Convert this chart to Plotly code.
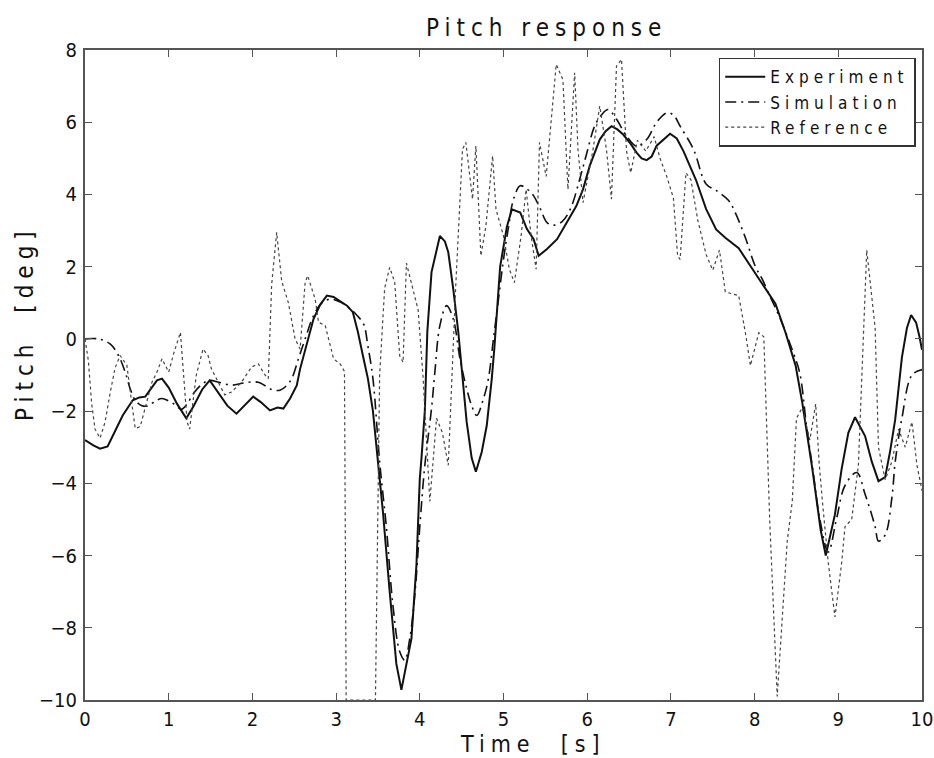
import plotly.graph_objects as go

# ---- measured pitch traces ----
exp_t = [0.00, 0.10, 0.18, 0.27, 0.36, 0.45, 0.57, 0.65, 0.72, 0.80, 0.86, 0.92, 1.00, 1.10, 1.21,
         1.30, 1.40, 1.49, 1.58, 1.70, 1.81, 1.92, 2.01, 2.10, 2.21, 2.30, 2.37, 2.45, 2.53, 2.57,
         2.65, 2.73, 2.81, 2.89, 2.97, 3.05, 3.13, 3.20, 3.26, 3.32, 3.38, 3.44, 3.48, 3.56, 3.64,
         3.72, 3.78, 3.84, 3.90, 3.96, 4.00, 4.02, 4.06, 4.09, 4.14, 4.24, 4.30, 4.34, 4.40, 4.46,
         4.51, 4.56, 4.62, 4.67, 4.74, 4.80, 4.86, 4.89, 4.96, 5.04, 5.10, 5.20, 5.28, 5.36, 5.42,
         5.52, 5.64, 5.76, 5.87, 5.95, 6.03, 6.15, 6.22, 6.29, 6.36, 6.43, 6.52, 6.59, 6.65, 6.71,
         6.77, 6.83, 6.92, 6.99, 7.07, 7.15, 7.30, 7.42, 7.54, 7.65, 7.81, 7.93, 8.09, 8.25, 8.37,
         8.49, 8.57, 8.69, 8.79, 8.85, 8.96, 9.04, 9.12, 9.20, 9.32, 9.40, 9.48, 9.56, 9.62, 9.68,
         9.76, 9.82, 9.87, 9.93, 9.97, 10.00]
exp_v = [-2.80, -2.95, -3.04, -2.98, -2.55, -2.12, -1.70, -1.62, -1.60, -1.35, -1.15, -1.10, -1.35, -1.80, -2.20,
         -1.85, -1.40, -1.15, -1.45, -1.85, -2.07, -1.80, -1.60, -1.75, -1.98, -1.90, -1.93, -1.65, -1.29, -0.83,
         -0.15, 0.55, 0.95, 1.20, 1.16, 1.05, 0.92, 0.74, 0.20, -0.46, -1.10, -2.00, -2.95, -4.80, -7.00,
         -9.00, -9.72, -9.00, -8.30, -6.26, -3.87, -3.30, -2.00, 0.20, 1.85, 2.85, 2.70, 2.40, 1.38, 0.19,
         -1.10, -2.30, -3.30, -3.68, -3.13, -2.40, -1.10, -0.28, 2.00, 3.10, 3.59, 3.50, 3.04, 2.76, 2.30,
         2.49, 2.76, 3.23, 3.68, 4.14, 4.79, 5.52, 5.75, 5.89, 5.80, 5.66, 5.40, 5.16, 5.00, 4.95,
         5.05, 5.35, 5.55, 5.68, 5.55, 5.20, 4.40, 3.60, 3.03, 2.80, 2.51, 2.10, 1.54, 0.97, 0.17,
         -0.74, -1.77, -3.60, -5.30, -6.00, -4.86, -3.60, -2.60, -2.17, -2.69, -3.40, -3.94, -3.83, -3.10, -2.23,
         -0.51, 0.30, 0.66, 0.45, 0.06, -0.30]

sim_t = [0.00, 0.16, 0.30, 0.40, 0.48, 0.54, 0.60, 0.68, 0.76, 0.84, 0.92, 1.00, 1.08, 1.15, 1.22,
         1.30, 1.40, 1.49, 1.60, 1.75, 1.90, 2.07, 2.23, 2.33, 2.41, 2.47, 2.55, 2.63, 2.73, 2.83,
         2.93, 3.05, 3.17, 3.25, 3.33, 3.38, 3.44, 3.52, 3.60, 3.68, 3.76, 3.82, 3.88, 3.94, 4.00,
         4.06, 4.14, 4.18, 4.24, 4.32, 4.40, 4.48, 4.56, 4.62, 4.68, 4.76, 4.82, 4.88, 4.94, 5.00,
         5.06, 5.12, 5.20, 5.28, 5.36, 5.44, 5.52, 5.60, 5.70, 5.80, 5.91, 5.99, 6.09, 6.17, 6.25,
         6.35, 6.47, 6.59, 6.71, 6.83, 6.95, 7.03, 7.11, 7.27, 7.42, 7.54, 7.69, 7.77, 7.89, 8.01,
         8.09, 8.18, 8.26, 8.34, 8.46, 8.54, 8.62, 8.70, 8.78, 8.88, 8.98, 9.08, 9.22, 9.32, 9.44,
         9.48, 9.56, 9.64, 9.68, 9.76, 9.88, 10.00]
sim_v = [0.00, 0.00, -0.14, -0.46, -0.92, -1.38, -1.70, -1.85, -1.85, -1.72, -1.65, -1.72, -1.83, -1.95, -1.80,
         -1.50, -1.25, -1.15, -1.20, -1.28, -1.22, -1.20, -1.40, -1.42, -1.29, -1.10, -0.55, 0.00, 0.64, 1.00,
         1.10, 1.02, 0.83, 0.65, 0.40, -0.20, -1.10, -3.40, -5.20, -7.40, -8.66, -8.90, -8.30, -7.10, -5.20,
         -3.50, -1.93, -0.92, 0.37, 0.92, 0.55, -0.55, -1.38, -1.85, -2.12, -1.66, -1.10, 0.00, 1.10, 2.20,
         3.10, 3.87, 4.24, 4.15, 3.96, 3.60, 3.22, 3.15, 3.25, 3.60, 4.42, 5.10, 5.90, 6.20, 6.35,
         6.08, 5.62, 5.34, 5.52, 6.00, 6.26, 6.20, 5.89, 5.25, 4.29, 4.11, 3.83, 3.49, 2.80, 2.00,
         1.66, 1.20, 0.80, 0.37, -0.37, -0.95, -2.40, -3.70, -5.00, -5.90, -4.97, -4.06, -3.70, -4.30, -5.20,
         -5.60, -5.43, -4.40, -3.40, -2.20, -1.00, -0.85]

ref_t = [0.00, 0.04, 0.08, 0.12, 0.18, 0.24, 0.30, 0.36, 0.42, 0.50, 0.56, 0.60, 0.66, 0.72, 0.80,
         0.86, 0.92, 1.00, 1.06, 1.14, 1.18, 1.22, 1.25, 1.33, 1.41, 1.47, 1.51, 1.59, 1.67, 1.75,
         1.87, 1.99, 2.07, 2.15, 2.19, 2.23, 2.29, 2.35, 2.43, 2.51, 2.57, 2.63, 2.66, 2.75, 2.79,
         2.87, 2.97, 3.05, 3.10, 3.12, 3.47, 3.52, 3.58, 3.64, 3.70, 3.76, 3.80, 3.84, 3.92, 3.98,
         4.04, 4.12, 4.20, 4.27, 4.34, 4.43, 4.51, 4.55, 4.63, 4.67, 4.73, 4.79, 4.87, 4.91, 5.00,
         5.07, 5.13, 5.21, 5.27, 5.33, 5.39, 5.43, 5.51, 5.57, 5.63, 5.71, 5.77, 5.85, 5.89, 5.95,
         6.07, 6.15, 6.23, 6.29, 6.35, 6.41, 6.47, 6.52, 6.60, 6.70, 6.80, 6.87, 6.95, 7.03, 7.08,
         7.11, 7.18, 7.24, 7.32, 7.42, 7.50, 7.58, 7.65, 7.81, 7.89, 7.95, 8.05, 8.11, 8.18, 8.27,
         8.33, 8.39, 8.45, 8.50, 8.57, 8.66, 8.73, 8.77, 8.81, 8.88, 8.96, 9.04, 9.08, 9.16, 9.24,
         9.34, 9.44, 9.48, 9.56, 9.64, 9.72, 9.80, 9.88, 9.94, 10.00]
ref_v = [0.00, -0.60, -1.80, -2.50, -2.75, -2.30, -1.50, -0.80, -0.46, -0.73, -1.80, -2.48, -2.43, -1.90, -1.20,
         -0.92, -0.55, -0.92, -0.40, 0.18, -1.20, -2.30, -2.50, -1.00, -0.28, -0.46, -0.83, -1.20, -1.55, -1.47,
         -1.20, -0.78, -0.69, -1.00, -1.10, 1.50, 2.95, 1.60, 1.00, 0.00, -0.28, 1.56, 1.75, 1.10, 0.46,
         0.37, -0.55, -0.70, -0.90, -10.0, -10.0, -1.00, 1.40, 1.98, 1.57, -0.47, -0.65, 2.10, 1.38, 0.80,
         -1.10, -4.50, -2.20, -2.60, -3.50, 1.50, 5.25, 5.44, 3.87, 5.34, 2.30, 3.13, 5.07, 3.59, 2.85,
         1.93, 1.56, 2.85, 4.14, 2.85, 1.93, 5.44, 4.50, 6.17, 7.60, 7.18, 4.14, 7.37, 5.25, 3.77,
         5.25, 6.45, 5.25, 3.87, 7.55, 7.74, 5.20, 4.60, 5.50, 5.20, 5.60, 5.00, 4.50, 3.90, 2.30,
         2.20, 4.60, 4.40, 3.30, 2.34, 1.90, 2.46, 1.30, 1.20, 0.17, -0.74, 0.17, 0.06, -5.00, -9.90,
         -7.80, -5.60, -4.50, -2.20, -1.90, -2.80, -1.80, -3.40, -4.50, -6.20, -7.70, -6.20, -5.20, -5.00, -3.50,
         2.46, 0.30, -3.00, -3.90, -3.40, -2.50, -3.00, -2.30, -3.50, -4.20]

x_ticks = list(range(0, 11))
y_ticks = list(range(-10, 9, 2))

FONT = "Liberation Sans Narrow, DejaVu Sans Condensed, Arial Narrow, sans-serif"
INK = "#111111"
AXIS = "#555555"


def spaced(text, px):
    return f'<span style="letter-spacing:{px}px">{text}</span>'


fig = go.Figure()
fig.add_trace(go.Scatter(x=exp_t, y=exp_v, mode="lines", name=spaced("Experiment", 5),
                         line=dict(color=INK, width=2)))
fig.add_trace(go.Scatter(x=sim_t, y=sim_v, mode="lines", name=spaced("Simulation", 5),
                         line=dict(color=INK, width=1.6, dash="11px,5px,2px,5px"),
                         line_shape="spline"))
fig.add_trace(go.Scatter(x=ref_t, y=ref_v, mode="lines", name=spaced("Reference", 5),
                         line=dict(color="#444444", width=1.2, dash="dot")))

axis_common = dict(
    showgrid=False, zeroline=False, showline=True, linecolor=AXIS, linewidth=2,
    mirror="ticks", ticks="inside", ticklen=7, tickwidth=1.2, tickcolor=AXIS,
    tickfont=dict(family=FONT, size=20, color=INK), automargin=False,
    ticklabeloverflow="allow",
)

fig.update_layout(
    width=934, height=758,
    margin=dict(l=85, r=12, t=50, b=58),
    paper_bgcolor="white", plot_bgcolor="white",
    showlegend=True,
    legend=dict(
        x=0.9925, y=0.988, xanchor="right", yanchor="top",
        bgcolor="white", bordercolor="#333333", borderwidth=1.5,
        font=dict(family=FONT, size=17, color=INK),
        tracegroupgap=0, itemwidth=40,
    ),
    xaxis=dict(range=[0, 10], tickvals=x_ticks, ticklabelstandoff=0, **axis_common),
    yaxis=dict(range=[-10, 8], tickvals=y_ticks, ticklabelstandoff=2, **axis_common),
    annotations=[
        dict(text=spaced("Pitch response", 6), xref="paper", yref="paper",
             x=0.551, y=1.0, yanchor="bottom", yshift=6, showarrow=False,
             font=dict(family=FONT, size=24, color=INK)),
        dict(text=spaced("Time  [s]", 6), xref="paper", yref="paper",
             x=0.535, y=0, yanchor="top", yshift=-29, showarrow=False,
             font=dict(family=FONT, size=23, color=INK)),
        dict(text=spaced("Pitch  [deg]", 6), xref="paper", yref="paper",
             x=0, y=0.58, xanchor="right", xshift=-44, textangle=-90, showarrow=False,
             font=dict(family=FONT, size=24, color=INK)),
    ],
)

fig.write_html("out.html")
